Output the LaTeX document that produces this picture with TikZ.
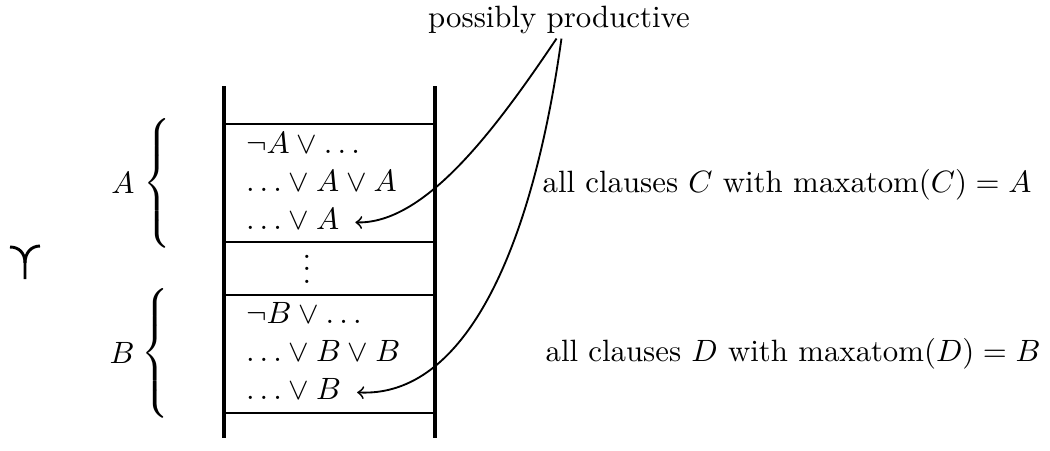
\documentclass[tikz,border=0pt]{standalone}
\usepackage{amsmath,amssymb}
\begin{document}
\begin{tikzpicture}[x=0.3245pt,y=-0.3245pt,
  wall/.style={line width=1.2pt},
  sep/.style={line width=0.8pt},
  link/.style={line width=0.6pt,->},
  row/.style={anchor=base west, inner xsep=5pt, inner ysep=0pt},
  lbl/.style={inner sep=0pt},
  brc/.style={anchor=west, inner sep=0pt},
  glyph/.style={line width=0.95pt}]
\useasboundingbox (0,0) rectangle (1050,450);

% left symbol
\draw[glyph] (10,247) .. controls (19,247) and (25,253) .. (25,263) -- (25,279);
\draw[glyph] (40,246) .. controls (31,246) and (25,253) .. (25,263);

% labels and braces
\node[lbl] (la) at (123,183) {$A$};
\node[brc] (ba) at (143,183.5) {$\left\{\vrule height 22.5pt depth 17.5pt width 0pt\right.$};
\node[lbl] (lb) at (122,353) {$B$};
\node[brc] (bb) at (141,353.5) {$\left\{\vrule height 22.5pt depth 17.5pt width 0pt\right.$};

% stack
\draw[wall] (224,86) -- (224,438);
\draw[wall] (435,86) -- (435,438);
\draw[sep] (224,124) -- (435,124);
\draw[sep] (224,242) -- (435,242);
\draw[sep] (224,295) -- (435,295);
\draw[sep] (224,413) -- (435,413);

\node[row] (a1) at (230,153) {$\neg A\lor\ldots$};
\node[row] (a2) at (230,191) {$\ldots\lor A\lor A$};
\node[row] (a3) at (230,229) {$\ldots\lor A$};
\node[anchor=base, inner sep=0pt] (dots) at (307,283) {$\vdots$};
\node[row] (b1) at (230,323) {$\neg B\lor\ldots$};
\node[row] (b2) at (230,361) {$\ldots\lor B\lor B$};
\node[row] (b3) at (230,399) {$\ldots\lor B$};

% right texts
\node[anchor=base, inner sep=1.5pt] (pp) at (559,27) {possibly productive};
\node[anchor=base west, inner sep=0pt] (tc) at (542,192) {all clauses $C$ with $\mathrm{maxatom}(C)=A$};
\node[anchor=base west, inner sep=0pt] (td) at (545,361) {all clauses $D$ with $\mathrm{maxatom}(D)=B$};

% arrows
\draw[link] ([xshift=-0.8pt]pp.south) .. controls (495,130) and (425,224) .. (a3.mid east);
\draw[link] ([xshift=0.8pt]pp.south) .. controls (532,250) and (465,398) .. (b3.mid east);
\end{tikzpicture}
\end{document}
